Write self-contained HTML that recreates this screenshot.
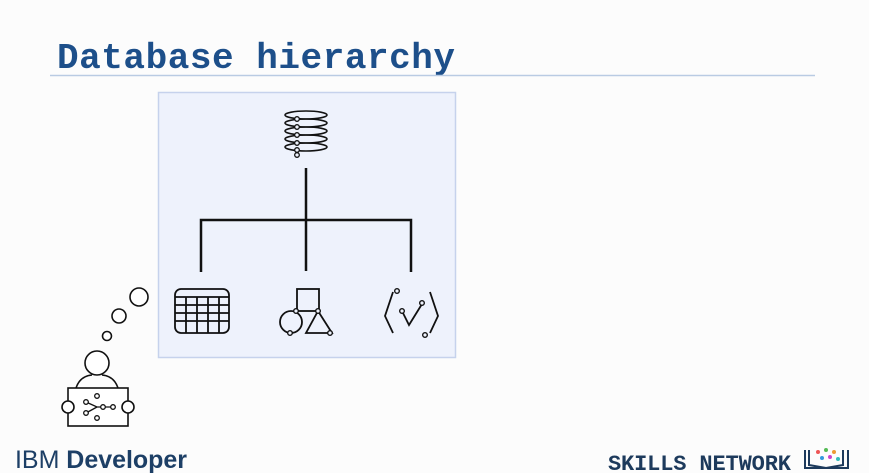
<!DOCTYPE html>
<html><head><meta charset="utf-8"><style>
html,body{margin:0;padding:0;background:#fff;width:869px;height:473px;overflow:hidden}
</style></head><body>
<svg width="869" height="473" viewBox="0 0 869 473" xmlns="http://www.w3.org/2000/svg">
<rect width="869" height="473" fill="#fcfcfc"/>
<text x="57" y="68" font-family="Liberation Mono, monospace" font-weight="bold" font-size="36" fill="#1d4f8a" textLength="398">Database hierarchy</text>
<line x1="50" y1="75.5" x2="815" y2="75.5" stroke="#b9cbe3" stroke-width="1.5"/>
<rect x="158.5" y="92.5" width="297" height="265" fill="#eef2fc" stroke="#c6d2ec" stroke-width="1.5"/>
<g fill="none" stroke="#111" stroke-width="1.6">
<ellipse cx="306" cy="115" rx="21" ry="4"/>
<ellipse cx="306" cy="123" rx="21" ry="4"/>
<ellipse cx="306" cy="131" rx="21" ry="4"/>
<ellipse cx="306" cy="139" rx="21" ry="4"/>
<ellipse cx="306" cy="147" rx="21" ry="4"/>
</g>
<g fill="#eef2fc" stroke="#111" stroke-width="1.3">
<circle cx="297" cy="119" r="2.3"/><circle cx="297" cy="127" r="2.3"/><circle cx="297" cy="135" r="2.3"/>
<circle cx="297" cy="143" r="2.3"/><circle cx="297" cy="150" r="2.3"/><circle cx="297" cy="155" r="2.3"/>
</g>
<g stroke="#111" stroke-width="2.5" fill="none">
<line x1="306" y1="168" x2="306" y2="271"/>
<polyline points="201,272 201,220 411,220 411,272"/>
</g>
<g fill="none" stroke="#111" stroke-width="1.8">
<rect x="175" y="289" width="54" height="44" rx="6"/>
<path d="M175 297H229M175 305H229M175 313H229M175 321H229M186 297V333M197 297V333M208 297V333M219 297V333"/>
<rect x="297" y="289" width="22" height="22"/>
<circle cx="291" cy="322" r="11"/>
<polygon points="318,311 332,333 306,333"/>
<polyline points="393,292 385,316 393,333"/>
<polyline points="430,292 438,316 430,333"/>
<polyline points="402,311 409,325 422,304"/>
</g>
<g fill="#eef2fc" stroke="#111" stroke-width="1.4">
<circle cx="296" cy="311" r="2.3"/><circle cx="318" cy="311" r="2.3"/><circle cx="290" cy="333" r="2.3"/><circle cx="330" cy="333" r="2.3"/>
<circle cx="397" cy="291" r="2.3"/><circle cx="402" cy="311" r="2.3"/><circle cx="422" cy="303" r="2.3"/><circle cx="425" cy="335" r="2.3"/>
</g>
<g fill="#fff" stroke="#111" stroke-width="1.6">
<circle cx="139" cy="297" r="9"/><circle cx="119" cy="316" r="7"/><circle cx="107" cy="336" r="4.5"/>
<circle cx="97" cy="363" r="12"/>
<path d="M76 388 Q80 376 92 375 M102 375 Q114 376 118 388" fill="none"/>
<rect x="68" y="388" width="60" height="38"/>
<circle cx="68" cy="407" r="6"/><circle cx="128" cy="407" r="6"/>
</g>
<g fill="none" stroke="#111" stroke-width="1.3">
<path d="M86 402 L97 407 L113 407 M86 413 L97 407"/>
<circle cx="86" cy="402" r="2.3" fill="#fff"/><circle cx="86" cy="413" r="2.3" fill="#fff"/>
<circle cx="97" cy="396" r="2.3" fill="#fff"/><circle cx="97" cy="418" r="2.3" fill="#fff"/>
<circle cx="103" cy="407" r="2.3" fill="#fff"/><circle cx="113" cy="407" r="2.3" fill="#fff"/>
</g>
<text x="15" y="468" font-family="Liberation Sans, sans-serif" font-size="25" fill="#1d3f66" textLength="172">IBM <tspan font-weight="bold">Developer</tspan></text>
<text x="608" y="470" font-family="Liberation Mono, monospace" font-weight="bold" font-size="22" fill="#1d3a5c" textLength="183">SKILLS NETWORK</text>
<g fill="none" stroke="#1d3a5c" stroke-width="2">
<path d="M805 450V468H848V450M809 450V465L826 468L843 465V450"/>
</g>
<g>
<circle cx="818" cy="452" r="2" fill="#e55"/><circle cx="826" cy="450" r="2" fill="#5b5"/><circle cx="834" cy="452" r="2" fill="#e93"/>
<circle cx="822" cy="458" r="2" fill="#39d"/><circle cx="830" cy="457" r="2" fill="#c4c"/><circle cx="838" cy="459" r="2" fill="#3bb"/>
</g>
</svg>
</body></html>
